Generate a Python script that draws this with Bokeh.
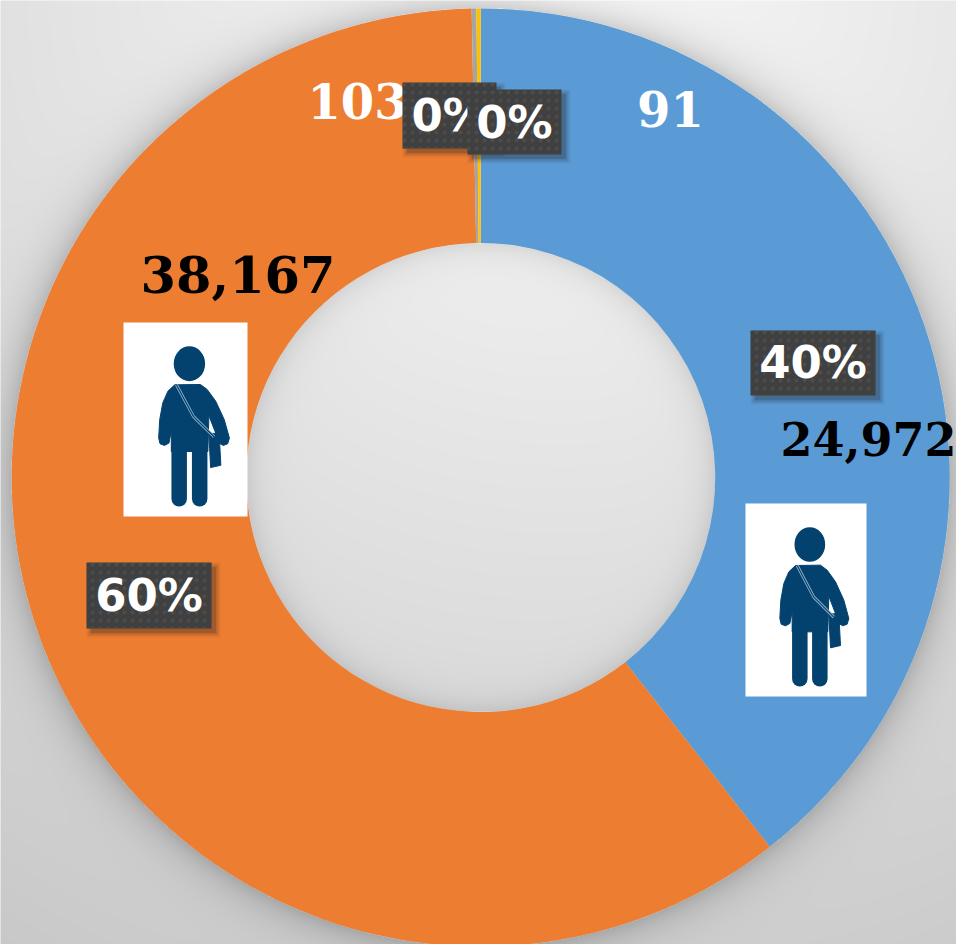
import numpy as np
from bokeh.core.properties import value
from bokeh.embed import file_html
from bokeh.models import Range1d
from bokeh.plotting import figure
from bokeh.resources import INLINE

# ---------- data ----------
categories = ["Blue", "Orange", "Gray", "Yellow"]
counts = [24972, 38167, 103, 91]
colors = ["#5B9BD5", "#ED7D31", "#A5A5A5", "#FFC000"]
count_labels = ["24,972", "38,167", "103", "91"]
pct_labels = ["40%", "60%", "0%", "0%"]

# ---------- layout (reference pixels, y measured from the top) ----------
W, H = 956, 944
PAD = 3
CX, CY, R_OUT, R_IN = 480.2, 477.0, 469.0, 234.5


def Y(py):
    return H - py


p = figure(
    width=W, height=H, output_backend="svg", toolbar_location=None,
    x_range=Range1d(0, W), y_range=Range1d(0, H), min_border=0,
    background_fill_color=None, border_fill_color=None, outline_line_color=None,
)
p.axis.visible = False
p.grid.visible = False

# ---------- background gradient with drop shadow ----------
xs = np.arange(-PAD, W + PAD) + 0.5
ys = H - (np.arange(-PAD, H + PAD) + 0.5)
gx, gy = np.meshgrid(xs, ys)
base = 250 - 0.045 * np.hypot(gx - 560, gy)
rad = np.hypot(gx - CX, gy - CY)
outer_d = np.clip(rad - R_OUT, 0, None)
inner_d = np.clip(R_IN - rad, 0, None)
shade = 40 * np.exp(-outer_d / 18) * (rad >= R_OUT) + 22 * np.exp(-inner_d / 14) * (rad <= R_IN)
grey = np.clip(base - shade, 0, 255).astype(np.uint32)
img = (255 << 24) | (grey << 16) | (grey << 8) | grey
p.image_rgba(image=[img.astype(np.uint32)], x=-PAD, y=-PAD, dw=W + 2 * PAD, dh=H + 2 * PAD)

# ---------- donut ----------
shares = np.array(counts, dtype=float) / sum(counts) * 2 * np.pi
stops = np.cumsum(shares)
starts = np.pi / 2 - (stops - shares)
ends = np.pi / 2 - stops
p.annular_wedge(
    x=[CX] * 4, y=[Y(CY)] * 4, inner_radius=R_IN, outer_radius=R_OUT,
    start_angle=list(starts), end_angle=list(ends), direction="clock",
    fill_color=colors, line_color=None,
)


# ---------- person icons ----------
NAVY = "#03426F"
ICON_BODY = (
    [150, 130, 115, 106, 103, 107, 120, 133, 140, 140, 247, 250, 268, 280, 292, 305, 310, 295, 270, 245, 225],
    [186, 205, 240, 290, 345, 362, 367, 360, 325, 385, 385, 278, 325, 360, 367, 362, 345, 290, 235, 200, 185],
)
ICON_BAG = ([250, 280, 285, 255], [331, 331, 426, 433])
ICON_LEGS = [([163, 163], [370, 526]), ([223, 223], [370, 526])]
ICON_STRAP = ([155, 205, 265], [186, 281, 341])


def person(left, top, right, bottom):
    sx = (right - left) / 363
    sy = (bottom - top) / 579

    def tx(v):
        return [left + a * sx for a in v]

    def ty(v):
        return [Y(top + a * sy) for a in v]

    p.quad(left=[left], right=[right], top=[Y(top)], bottom=[Y(bottom)],
           fill_color="white", line_color=None)
    p.ellipse(x=[left + 193 * sx], y=[Y(top + 123 * sy)], width=92 * sx, height=104 * sy,
              fill_color=NAVY, line_color=None)
    p.patch(tx(ICON_BODY[0]), ty(ICON_BODY[1]), fill_color=NAVY, line_color=NAVY, line_width=1)
    p.patch(tx(ICON_BAG[0]), ty(ICON_BAG[1]), fill_color=NAVY, line_color=NAVY)
    for lx, ly in ICON_LEGS:
        p.line(tx(lx), ty(ly), line_color=NAVY, line_width=15.5, line_cap="round")
    p.line(tx(ICON_STRAP[0]), ty(ICON_STRAP[1]), line_color="#8FB0C8", line_width=3)
    p.line(tx(ICON_STRAP[0]), ty(ICON_STRAP[1]), line_color=NAVY, line_width=1.2)


person(745, 503, 866, 696)
person(123, 322, 247, 516)


# ---------- text helpers ----------
def label(txt, x, mid_py, size, color, font="DejaVu Serif", align="center"):
    p.text(x=[x], y=[Y(mid_py)], text=[txt], text_font=value(font), text_font_style="bold",
           text_font_size=f"{size}px", text_color=color, text_align=align,
           text_baseline="middle")


def box(left, top, right, bottom):
    for grow, alpha in [(5, 0.06), (3.5, 0.08), (2, 0.12), (0.5, 0.18)]:
        p.quad(left=[left + 5 - grow], right=[right + 4 + grow], top=[Y(top + 5 - grow)],
               bottom=[Y(bottom + 4 + grow)], fill_color="#222222", fill_alpha=alpha, line_color=None)
    p.quad(left=[left], right=[right], top=[Y(top)], bottom=[Y(bottom)],
           fill_color="#404040", line_color=None,
           hatch_pattern="dot", hatch_color="#4C4C4C", hatch_scale=8, hatch_weight=1.5)


# ---------- labels ----------
label(count_labels[0], 868, 438.5, 46, "black")
label(count_labels[1], 237.5, 274, 51, "black")
label(count_labels[2], 357, 100.5, 48, "white")
label(count_labels[3], 670, 108.5, 48, "white")

box(750, 330, 875, 395)
label(pct_labels[0], 812.5, 362, 45, "white", font="DejaVu Sans")
box(86, 562, 211, 628)
label(pct_labels[1], 148.5, 595, 45, "white", font="DejaVu Sans")
box(402, 82, 496, 148)
label(pct_labels[2], 411, 115, 45, "white", font="DejaVu Sans", align="left")
box(467, 89, 561, 154)
label(pct_labels[3], 514, 122, 45, "white", font="DejaVu Sans")

open("out.html", "w").write(file_html(p, INLINE))
